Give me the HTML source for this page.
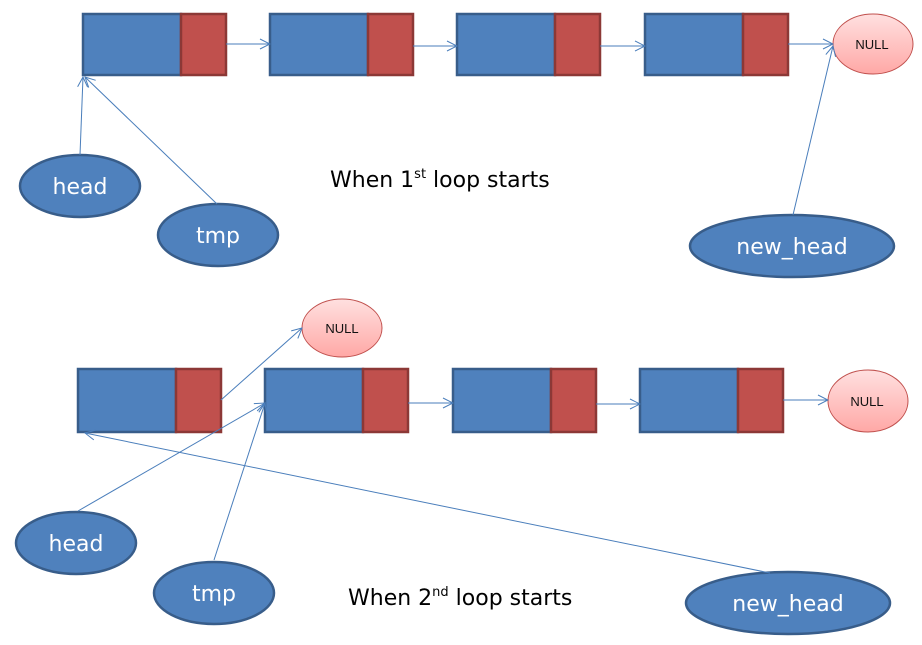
<!DOCTYPE html>
<html><head><style>body{margin:0;background:#fff}svg{display:block}</style></head><body>
<svg width="922" height="645" xmlns="http://www.w3.org/2000/svg" font-family="'Liberation Sans',sans-serif">
<defs>
<linearGradient id="ng" x1="0" y1="0" x2="0" y2="1"><stop offset="0" stop-color="#ffe0e0"/><stop offset="1" stop-color="#ffa8a6"/></linearGradient>
<marker id="a" markerWidth="12" markerHeight="12" refX="11" refY="6" orient="auto" markerUnits="userSpaceOnUse"><path d="M1,1 L11,6 L1,11" fill="none" stroke="#4a7ebb" stroke-width="1"/></marker>
</defs>
<g stroke-width="2.5">
<rect x="83" y="14" width="98" height="61" fill="#4f81bd" stroke="#385d8a"/><rect x="181" y="14" width="45" height="61" fill="#c0504d" stroke="#8c3836"/>
<rect x="270" y="14" width="98" height="61" fill="#4f81bd" stroke="#385d8a"/><rect x="368" y="14" width="45" height="61" fill="#c0504d" stroke="#8c3836"/>
<rect x="457" y="14" width="98" height="61" fill="#4f81bd" stroke="#385d8a"/><rect x="555" y="14" width="45" height="61" fill="#c0504d" stroke="#8c3836"/>
<rect x="645" y="14" width="98" height="61" fill="#4f81bd" stroke="#385d8a"/><rect x="743" y="14" width="45" height="61" fill="#c0504d" stroke="#8c3836"/>
<rect x="78" y="369" width="98" height="63" fill="#4f81bd" stroke="#385d8a"/><rect x="176" y="369" width="45" height="63" fill="#c0504d" stroke="#8c3836"/>
<rect x="265" y="369" width="98" height="63" fill="#4f81bd" stroke="#385d8a"/><rect x="363" y="369" width="45" height="63" fill="#c0504d" stroke="#8c3836"/>
<rect x="453" y="369" width="98" height="63" fill="#4f81bd" stroke="#385d8a"/><rect x="551" y="369" width="45" height="63" fill="#c0504d" stroke="#8c3836"/>
<rect x="640" y="369" width="98" height="63" fill="#4f81bd" stroke="#385d8a"/><rect x="738" y="369" width="45" height="63" fill="#c0504d" stroke="#8c3836"/>
<ellipse cx="80" cy="186" rx="60" ry="31" fill="#4f81bd" stroke="#385d8a"/>
<ellipse cx="218" cy="235" rx="60" ry="31" fill="#4f81bd" stroke="#385d8a"/>
<ellipse cx="792" cy="246" rx="102" ry="31" fill="#4f81bd" stroke="#385d8a"/>
<ellipse cx="76" cy="543" rx="60" ry="31" fill="#4f81bd" stroke="#385d8a"/>
<ellipse cx="214" cy="593" rx="60" ry="31" fill="#4f81bd" stroke="#385d8a"/>
<ellipse cx="788" cy="603" rx="102" ry="31" fill="#4f81bd" stroke="#385d8a"/>
</g>
<g stroke="#c0504d" stroke-width="1" fill="url(#ng)">
<ellipse cx="873" cy="44" rx="40" ry="30"/>
<ellipse cx="342" cy="328" rx="40" ry="29"/>
<ellipse cx="868" cy="401" rx="40" ry="31"/>
</g>
<g stroke="#4a7ebb" stroke-width="1" fill="none" marker-end="url(#a)">
<line x1="226" y1="44" x2="270" y2="44"/>
<line x1="413" y1="46" x2="457" y2="46"/>
<line x1="600" y1="46" x2="645" y2="46"/>
<line x1="788" y1="44" x2="833" y2="44"/>
<line x1="80" y1="155" x2="83" y2="77"/>
<line x1="217" y1="204" x2="85" y2="77"/>
<line x1="793" y1="215" x2="833" y2="46"/>
<line x1="221" y1="400" x2="302" y2="328"/>
<line x1="408" y1="403" x2="453" y2="403"/>
<line x1="596" y1="404" x2="640" y2="404"/>
<line x1="783" y1="400" x2="828" y2="400"/>
<line x1="78" y1="511" x2="265" y2="403"/>
<line x1="214" y1="560" x2="265" y2="403"/>
<line x1="770" y1="573" x2="85" y2="433"/>
</g>
<g fill="#fff" font-size="22" text-anchor="middle" font-family="'DejaVu Sans','Liberation Sans',sans-serif">
<text x="80" y="194">head</text>
<text x="218" y="243">tmp</text>
<text x="792" y="254">new_head</text>
<text x="76" y="551">head</text>
<text x="214" y="601">tmp</text>
<text x="788" y="611">new_head</text>
</g>
<g fill="#111" font-size="13" text-anchor="middle">
<text x="872" y="49">NULL</text><text x="342" y="333">NULL</text><text x="867" y="406">NULL</text>
</g>
<g fill="#000" font-size="22" font-family="'DejaVu Sans','Liberation Sans',sans-serif">
<text x="330" y="187">When 1<tspan font-size="13" dy="-9">st</tspan><tspan dy="9"> loop starts</tspan></text>
<text x="348" y="605">When 2<tspan font-size="13" dy="-9">nd</tspan><tspan dy="9"> loop starts</tspan></text>
</g>
</svg>
</body></html>
